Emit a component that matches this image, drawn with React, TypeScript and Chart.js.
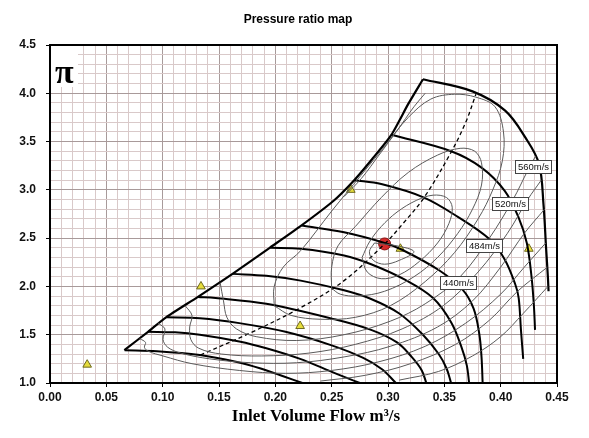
import React, { useEffect, useRef } from 'react';
import { Chart, registerables } from 'chart.js';

Chart.register(...registerables);

type P = [number, number];

// ---- axis ticks ----
const xMin = 0, xMax = 0.45, xStep = 0.01;
const yMin = 1, yMax = 4.5, yStep = 0.1;

// ---- surge line ----
const surgeLine: P[] = [[0.066,1.34],[0.087,1.53],[0.103,1.68],[0.131,1.89],[0.162,2.13],[0.195,2.40],[0.223,2.63],[0.252,2.89],[0.27,3.10],[0.286,3.32],[0.303,3.57],[0.318,3.89],[0.331,4.145]];

// ---- speed lines ----
const speed560: P[] = [[0.331,4.145],[0.375,4.02],[0.404,3.82],[0.422,3.54],[0.434,3.27],[0.438,2.85],[0.4403,2.40],[0.4419,2.10],[0.4425,1.95]];
const speed520: P[] = [[0.303,3.57],[0.356,3.40],[0.383,3.23],[0.4036,2.99],[0.4157,2.72],[0.4232,2.45],[0.4274,2.10],[0.4295,1.80],[0.4305,1.55]];
const speed484: P[] = [[0.27,3.10],[0.294,3.06],[0.332,2.92],[0.362,2.72],[0.39,2.49],[0.4036,2.28],[0.413,2.02],[0.416,1.88],[0.418,1.55],[0.42,1.25]];
const speed440: P[] = [[0.2235,2.63],[0.261,2.56],[0.297,2.45],[0.3125,2.38],[0.345,2.17],[0.366,1.97],[0.376,1.77],[0.381,1.51],[0.383,1.27],[0.384,1.0]];
const speedE: P[] = [[0.1955,2.40],[0.2225,2.39],[0.261,2.32],[0.285,2.23],[0.315,2.07],[0.34,1.88],[0.356,1.63],[0.365,1.38],[0.37,1.18],[0.372,1.0]];
const speedF: P[] = [[0.1624,2.13],[0.192,2.11],[0.2225,2.06],[0.261,1.96],[0.285,1.87],[0.31,1.72],[0.331,1.50],[0.345,1.30],[0.352,1.15],[0.356,1.0]];
const speedG: P[] = [[0.1314,1.89],[0.147,1.88],[0.192,1.82],[0.2525,1.66],[0.285,1.55],[0.308,1.42],[0.321,1.27],[0.33,1.13],[0.334,1.0]];
const speedH: P[] = [[0.1034,1.68],[0.133,1.67],[0.168,1.62],[0.209,1.53],[0.25,1.39],[0.278,1.26],[0.295,1.14],[0.307,1.0]];
const speedI: P[] = [[0.0869,1.53],[0.111,1.525],[0.133,1.50],[0.168,1.43],[0.192,1.36],[0.222,1.25],[0.247,1.13],[0.264,1.05],[0.275,1.0]];
const speedJ: P[] = [[0.0662,1.34],[0.095,1.33],[0.133,1.29],[0.165,1.22],[0.187,1.15],[0.207,1.07],[0.224,1.0]];

// ---- max-efficiency (dashed) line ----
const dashedLine: P[] = [[0.1334,1.29],[0.178,1.52],[0.2225,1.78],[0.261,2.06],[0.297,2.44],[0.3125,2.64],[0.332,2.92],[0.356,3.39],[0.369,3.70],[0.378,3.99]];

// ---- efficiency contours ----
const eff1: P[] = [[0.288,2.45],[0.2835,2.36],[0.287,2.27],[0.297,2.23],[0.31,2.27],[0.323,2.36],[0.308,2.42],[0.288,2.45]];
const eff2: P[] = [[0.277,2.30],[0.2835,2.46],[0.294,2.62],[0.308,2.77],[0.325,2.89],[0.34,2.945],[0.352,2.92],[0.357,2.82],[0.354,2.65],[0.344,2.45],[0.328,2.26],[0.31,2.12],[0.294,2.08],[0.2815,2.15],[0.277,2.30]];
const eff3: P[] = [[0.25,1.98],[0.25,2.2],[0.2556,2.42],[0.271,2.62],[0.294,2.92],[0.318,3.18],[0.344,3.36],[0.364,3.43],[0.377,3.40],[0.383,3.28],[0.383,3.05],[0.375,2.8],[0.362,2.55],[0.344,2.3],[0.323,2.1],[0.297,1.95],[0.273,1.9],[0.2576,1.92],[0.25,1.98]];
const eff4: P[] = [[0.199,1.8],[0.199,2.0],[0.207,2.2],[0.2225,2.37],[0.25,2.78],[0.276,3.15],[0.297,3.45],[0.318,3.75],[0.338,3.94],[0.359,3.99],[0.378,3.96],[0.395,3.86],[0.4025,3.6],[0.4015,3.3],[0.393,3.0],[0.38,2.7],[0.359,2.35],[0.333,2.05],[0.302,1.8],[0.271,1.68],[0.24,1.66],[0.214,1.7],[0.199,1.8]];
const eff5: P[] = [[0.151,2.04],[0.154,1.85],[0.157,1.68],[0.1655,1.56],[0.183,1.48],[0.219,1.44],[0.261,1.5],[0.302,1.64],[0.333,1.82],[0.364,2.1],[0.39,2.5],[0.411,2.9],[0.424,3.2],[0.431,3.35]];
const eff5top: P[] = [[0.261,2.93],[0.2765,3.12],[0.292,3.36],[0.3085,3.62],[0.323,3.86],[0.333,4.0]];
const eff6: P[] = [[0.12,1.80],[0.126,1.70],[0.124,1.58],[0.125,1.45],[0.132,1.36],[0.152,1.30],[0.188,1.28],[0.23,1.31],[0.271,1.40],[0.3125,1.56],[0.349,1.8],[0.38,2.15],[0.406,2.55],[0.424,2.9],[0.436,3.1]];
const eff7: P[] = [[0.096,1.62],[0.102,1.56],[0.1003,1.45],[0.1045,1.37],[0.116,1.31],[0.1417,1.25],[0.178,1.21],[0.219,1.21],[0.261,1.27],[0.302,1.38],[0.344,1.58],[0.375,1.85],[0.40,2.2],[0.421,2.55],[0.439,2.8]];
const eff8: P[] = [[0.0796,1.46],[0.0848,1.42],[0.0838,1.37],[0.087,1.33],[0.1003,1.28],[0.126,1.2],[0.168,1.13],[0.209,1.1],[0.25,1.13],[0.292,1.22],[0.333,1.38],[0.369,1.62],[0.40,1.92],[0.421,2.2],[0.44,2.45]];
const eff9: P[] = [[0.24,1.02],[0.28,1.08],[0.32,1.2],[0.36,1.4],[0.39,1.65],[0.415,1.95],[0.4415,2.2]];
const eff10: P[] = [[0.31,1.03],[0.345,1.12],[0.375,1.28],[0.40,1.48],[0.42,1.72],[0.442,2.0]];

// ---- measured points ----
const triangleX = [0.033, 0.134, 0.222, 0.267, 0.311, 0.425];
const triangleY = [1.19, 2.0, 1.59, 3.0, 2.39, 2.39];
const designPoint: P = [0.297, 2.44];

// ---- speed labels ----
const speedLabels = ['560m/s', '520m/s', '484m/s', '440m/s'];
const speedLabelX = [0.429, 0.408, 0.385, 0.362];
const speedLabelY = [3.24, 2.86, 2.42, 2.04];

const toXY = (pts: P[]) => pts.map(([x, y]) => ({ x, y }));

const lineDs = (pts: P[], width: number, color: string, extra: any = {}) => ({
  data: toXY(pts),
  showLine: true,
  borderColor: color,
  borderWidth: width,
  pointRadius: 0,
  pointHoverRadius: 0,
  tension: 0.35,
  fill: false,
  ...extra,
});

const overlay = {
  id: 'overlay',
  beforeDatasetsDraw(chart: any) {
    const { ctx, chartArea: a } = chart;
    ctx.save();
    ctx.fillStyle = '#ffffff';
    ctx.fillRect(a.left + 1, a.top + 1, 27, 41);
    ctx.fillStyle = '#000';
    ctx.font = 'bold 34px "Liberation Serif", serif';
    ctx.textBaseline = 'alphabetic';
    ctx.textAlign = 'left';
    ctx.fillText('π', a.left + 5, a.top + 38);
    ctx.restore();
  },
  afterDatasetsDraw(chart: any) {
    const { ctx, chartArea: a, scales } = chart;
    ctx.save();
    ctx.font = '9.5px "Liberation Sans", Arial, sans-serif';
    ctx.textAlign = 'center';
    ctx.textBaseline = 'middle';
    speedLabels.forEach((t, i) => {
      const px = scales.x.getPixelForValue(speedLabelX[i]);
      const py = scales.y.getPixelForValue(speedLabelY[i]);
      const w = Math.round(ctx.measureText(t).width + 5);
      const h = 13;
      const lx = Math.round(px - w / 2);
      const ly = Math.round(py - h / 2);
      ctx.fillStyle = '#fff';
      ctx.fillRect(lx, ly, w, h);
      ctx.strokeStyle = '#444';
      ctx.lineWidth = 1;
      ctx.strokeRect(lx + 0.5, ly + 0.5, w, h);
      ctx.fillStyle = '#111';
      ctx.fillText(t, lx + w / 2 + 0.5, ly + h / 2 + 1);
    });
    // frame
    ctx.strokeStyle = '#000';
    ctx.lineWidth = 2;
    ctx.strokeRect(a.left, a.top, a.right - a.left, a.bottom - a.top);
    ctx.restore();
  },
  afterDraw(chart: any) {
    const { ctx } = chart;
    ctx.save();
    ctx.fillStyle = '#000';
    ctx.textAlign = 'center';
    ctx.textBaseline = 'middle';
    ctx.font = 'bold 12px "Liberation Sans", Arial, sans-serif';
    ctx.fillText('Pressure ratio map', 298, 20);
    ctx.font = 'bold 17px "Liberation Serif", "Times New Roman", serif';
    ctx.fillText('Inlet Volume Flow m³/s', 316, 417);
    ctx.restore();
  },
};

export default function App() {
  const ref = useRef<HTMLCanvasElement | null>(null);
  useEffect(() => {
    if (!ref.current) return;
    const thick = '#000';
    const thin = '#5a5a5a';
    const gridColor = (c: any) => (c.index % 5 === 0 ? '#a89a9a' : '#d9c9c9');
    const tickColor = (c: any) => (c.index % 5 === 0 ? '#000' : 'rgba(0,0,0,0)');
    const tickFont = { family: '"Liberation Sans", Arial, sans-serif', size: 12, weight: 'bold' };
    const chart = new Chart(ref.current, {
      type: 'scatter',
      data: {
        datasets: [
          lineDs(eff1, 1, thin),
          lineDs(eff2, 1, thin),
          lineDs(eff3, 1, thin),
          lineDs(eff4, 1, thin),
          lineDs(eff5, 1, thin),
          lineDs(eff5top, 1, thin),
          lineDs(eff6, 1, thin),
          lineDs(eff7, 1, thin),
          lineDs(eff8, 1, thin),
          lineDs(eff9, 1, thin),
          lineDs(eff10, 1, thin),
          lineDs(speedJ, 2, thick),
          lineDs(speedI, 2, thick),
          lineDs(speedH, 2, thick),
          lineDs(speedG, 2, thick),
          lineDs(speedF, 2, thick),
          lineDs(speedE, 2, thick),
          lineDs(speed440, 2, thick),
          lineDs(speed484, 2, thick),
          lineDs(speed520, 2, thick),
          lineDs(speed560, 2.2, thick),
          lineDs(surgeLine, 2.2, thick, { tension: 0.2 }),
          lineDs(dashedLine, 1.3, thick, { borderDash: [4, 3] }),
          {
            data: triangleX.map((x, i) => ({ x, y: triangleY[i] })),
            showLine: false,
            pointStyle: 'triangle',
            pointRadius: 5,
            backgroundColor: '#e6dc3c',
            borderColor: '#6e6a1e',
            borderWidth: 1,
          },
          {
            data: [{ x: designPoint[0], y: designPoint[1] }],
            showLine: false,
            pointStyle: 'circle',
            pointRadius: 6,
            backgroundColor: '#d42a2a',
            borderColor: '#8a1010',
            borderWidth: 1,
          },
          {
            data: [{ x: designPoint[0] + 0.002, y: designPoint[1] - 0.01 }],
            showLine: false,
            pointStyle: 'circle',
            pointRadius: 2.6,
            backgroundColor: '#3aa0e6',
            borderColor: '#2a80c0',
            borderWidth: 0,
          },
        ] as any,
      },
      options: {
        animation: false,
        responsive: true,
        maintainAspectRatio: false,
        layout: { padding: { top: 45, right: 32, left: 0, bottom: 0 } },
        plugins: {
          legend: { display: false },
          title: { display: false },
          tooltip: { enabled: false },
        },
        scales: {
          x: {
            type: 'linear',
            min: xMin,
            max: xMax,
            afterFit: (s: any) => { s.height = 55; },
            ticks: {
              stepSize: xStep,
              autoSkip: false,
              maxRotation: 0,
              minRotation: 0,
              padding: 3,
              color: '#111',
              font: tickFont,
              callback: (v: any, i: number) => (i % 5 === 0 ? Number(v).toFixed(2) : ''),
            },
            grid: { color: gridColor, lineWidth: 1, tickLength: 4, tickColor },
            border: { display: false },
          },
          y: {
            type: 'linear',
            min: yMin,
            max: yMax,
            afterFit: (s: any) => { s.width = 50; },
            ticks: {
              stepSize: yStep,
              autoSkip: false,
              padding: 10,
              color: '#111',
              font: tickFont,
              callback: (v: any, i: number) => (i % 5 === 0 ? Number(v).toFixed(1) : ''),
            },
            grid: { color: gridColor, lineWidth: 1, tickLength: 4, tickColor },
            border: { display: false },
          },
        },
      } as any,
      plugins: [overlay],
    });
    return () => chart.destroy();
  }, []);
  return (
    <div style={{ position: 'fixed', left: 0, top: 0, width: 589, height: 438, background: '#fff' }}>
      <canvas ref={ref} />
    </div>
  );
}
